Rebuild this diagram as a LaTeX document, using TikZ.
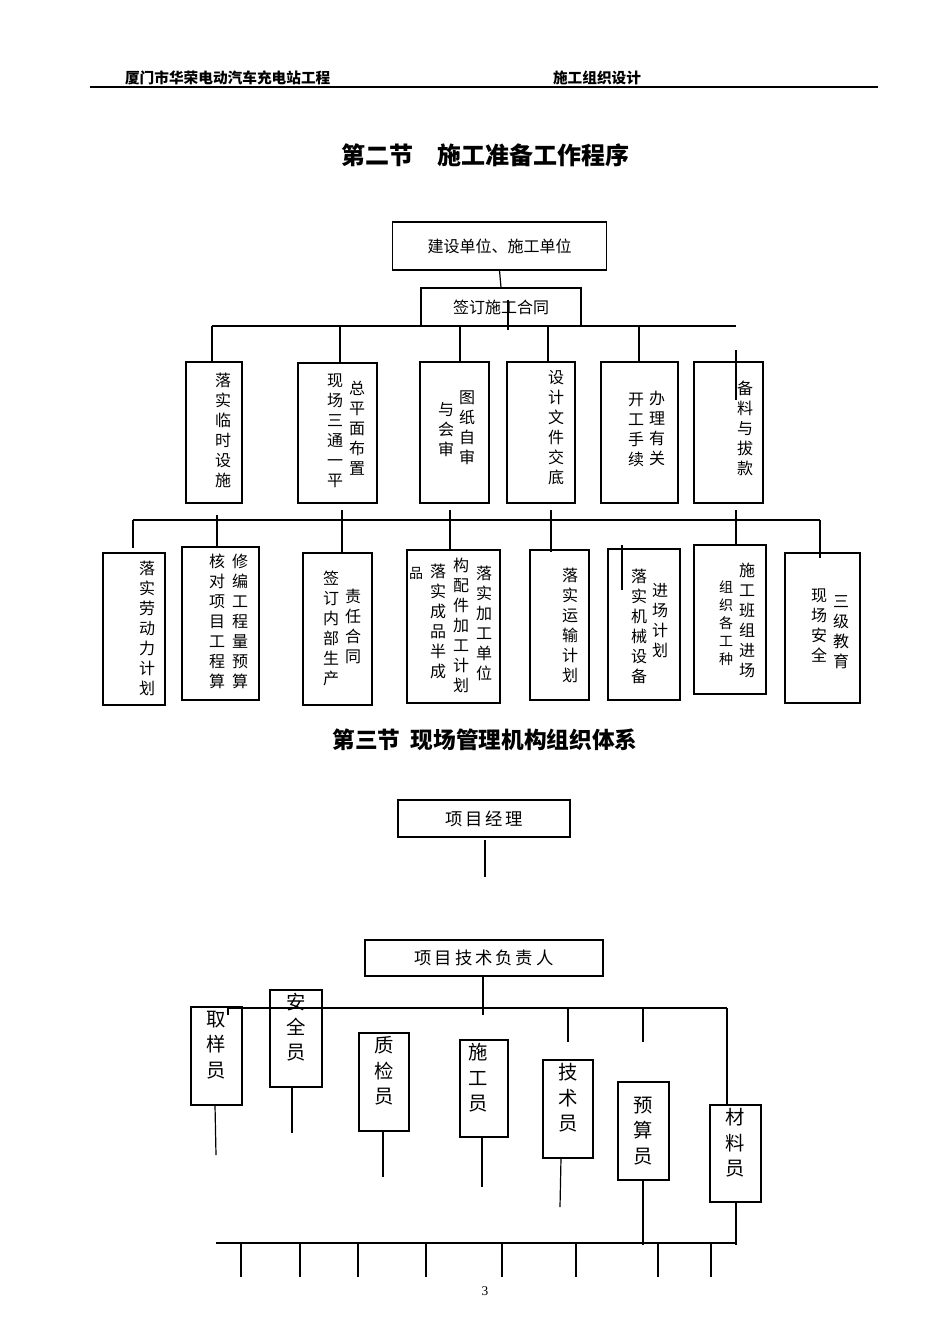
\documentclass[tikz,border=0pt]{standalone}
\usepackage{fontspec}
\setmainfont{Liberation Serif}
\newfontfamily\cjk{Noto Sans CJK SC}
\XeTeXlinebreaklocale "zh"
\XeTeXlinebreakskip=0pt plus 1pt
\begin{document}
\begin{tikzpicture}[x=0.75pt,y=-0.75pt,line width=0.9pt,
  bx/.style={draw},
  vc/.style={anchor=north,inner sep=0pt,text width=13pt,align=center,font=\cjk\fontsize{12}{15}\selectfont},
  vs/.style={anchor=north,inner sep=0pt,text width=12pt,align=center,font=\cjk\fontsize{10.5}{13.5}\selectfont},
  hb/.style={inner sep=0pt,font=\cjk\fontsize{12}{14}\selectfont},
  pb/.style={inner sep=0pt,text width=16pt,align=center,font=\cjk\fontsize{14.5}{19}\selectfont}]
\useasboundingbox (0,0) rectangle (950,1344);
% header
\node[anchor=west,font=\cjk\bfseries\itshape\fontsize{11}{13}\selectfont] (h1) at (120,78) {厦门市华荣电动汽车充电站工程};
\node[anchor=west,font=\cjk\bfseries\itshape\fontsize{11}{13}\selectfont] (h2) at (548,78) {施工组织设计};
\draw (90,87) -- (878,87);
\node[font=\cjk\bfseries\fontsize{18}{20}\selectfont] (t1) at (485,155) {第二节\quad 施工准备工作程序};
% top boxes
\node[bx,minimum width=161pt,minimum height=36pt,hb] (b1) at (499.5,246) {建设单位、施工单位};
\node[bx,minimum width=120pt,minimum height=28.5pt,hb] (b2) at (501,307) {签订施工合同};
\draw (b1.south) -- (b2.north);
\draw (508,300) -- (508,330);
\draw (212,326) -- (736,326);
\foreach \x in {212,340,460,548,639} \draw (\x,326) -- (\x,362);
% row1 boxes
\draw (186,362) rectangle (242,503);
\draw (298,363) rectangle (377,503);
\draw (420,362) rectangle (489,503);
\draw (507,362) rectangle (575,503);
\draw (601,362) rectangle (678,503);
\draw (694,362) rectangle (763,503);
\draw (736,350) -- (736,400);
\node[vc] (r1a) at (223,372) {落实临时设施};
\node[vc] (r2a) at (357,380) {总平面布置};
\node[vc] (r2b) at (335,373) {现场三通一平};
\node[vc] (r3a) at (467,390) {图纸自审};
\node[vc] (r3b) at (446,402) {与会审};
\node[vc] (r4a) at (556,370) {设计文件交底};
\node[vc] (r5a) at (657,390) {办理有关};
\node[vc] (r5b) at (636,392) {开工手续};
\node[vc] (r6a) at (745,380) {备料与拔款};
% second line
\draw (133,520) -- (820,520);
\draw (133,520) -- (133,548);
\draw (217,515) -- (217,548);
\draw (342,510) -- (342,553);
\draw (450,510) -- (450,550);
\draw (551,510) -- (551,552);
\draw (736,510) -- (736,545);
\draw (820,520) -- (820,558);
\draw (622,545) -- (622,590);
% row2 boxes
\draw (103,553) rectangle (165,705);
\draw (182,547) rectangle (259,700);
\draw (303,553) rectangle (372,705);
\draw (407,550) rectangle (500,703);
\draw (530,550) rectangle (589,700);
\draw (608,549) rectangle (680,700);
\draw (694,545) rectangle (766,694);
\draw (785,553) rectangle (860,703);
\node[vc] (s1a) at (147,560) {落实劳动力计划};
\node[vc] (s2a) at (240,553) {修编工程量预算};
\node[vc] (s2b) at (217,553) {核对项目工程算};
\node[vc] (s3a) at (353,588) {责任合同};
\node[vc] (s3b) at (331,570) {签订内部生产};
\node[vc] (s4a) at (484,565) {落实加工单位};
\node[vc] (s4b) at (461,557) {构配件加工计划};
\node[vc] (s4c) at (438,563) {落实成品半成};
\node[vs] (s4d) at (416,567) {品};
\node[vc] (s5a) at (570,567) {落实运输计划};
\node[vc] (s6a) at (660,583) {进场计划};
\node[vc] (s6b) at (639,568) {落实机械设备};
\node[vc] (s7a) at (747,562) {施工班组进场};
\node[vs] (s7b) at (726,580) {组织各工种};
\node[vc] (s8a) at (841,595) {三级教育};
\node[vc] (s8b) at (819,588) {现场安全};
% section 3
\node[font=\cjk\bfseries\fontsize{17}{20}\selectfont] (t2) at (485,740) {第三节\ \ 现场管理机构组织体系};
\node[bx,minimum width=129pt,minimum height=27.75pt,font=\cjk\fontsize{13}{15}\selectfont,inner sep=0pt] (p1) at (484,818.5) {项\,目\,经\,理};
\draw (485,840) -- (485,877);
\node[bx,minimum width=178.5pt,minimum height=27pt,font=\cjk\fontsize{13}{15}\selectfont,inner sep=0pt] (p2) at (484,958) {项\,目\,技\,术\,负\,责\,人};
\draw (483,976) -- (483,1015);
\draw (228,1008) -- (727,1008);
\draw (228,1008) -- (228,1015);
\draw (568,1008) -- (568,1042);
\draw (643,1008) -- (643,1042);
\draw (727,1008) -- (727,1105);
\draw (191,1007) rectangle (242,1105);
\draw (270,990) rectangle (322,1087);
\draw (359,1033) rectangle (409,1131);
\draw (460,1040) rectangle (508,1137);
\draw (543,1060) rectangle (593,1158);
\draw (618,1082) rectangle (669,1180);
\draw (710,1105) rectangle (761,1202);
\node[pb] (q1) at (216.5,1045) {取样员};
\node[pb] (q2) at (296,1027) {安全员};
\node[pb] (q3) at (384,1071) {质检员};
\node[pb] (q4) at (478,1078) {施工员};
\node[pb] (q5) at (568,1098) {技术员};
\node[pb] (q6) at (643.5,1131) {预算员};
\node[pb] (q7) at (735.5,1143) {材料员};
\draw (215,1105) -- (216,1155);
\draw (292,1087) -- (292,1133);
\draw (383,1131) -- (383,1177);
\draw (482,1137) -- (482,1187);
\draw (561,1158) -- (560,1207);
\draw (643,1180) -- (643,1245);
\draw (736,1202) -- (736,1245);
\draw (216,1243) -- (736,1243);
\foreach \x in {241,300,358,426,502,576,658,711} \draw (\x,1243) -- (\x,1277);
\node[font=\fontsize{10}{12}\selectfont] (pg) at (485,1291) {3};
\end{tikzpicture}
\end{document}
